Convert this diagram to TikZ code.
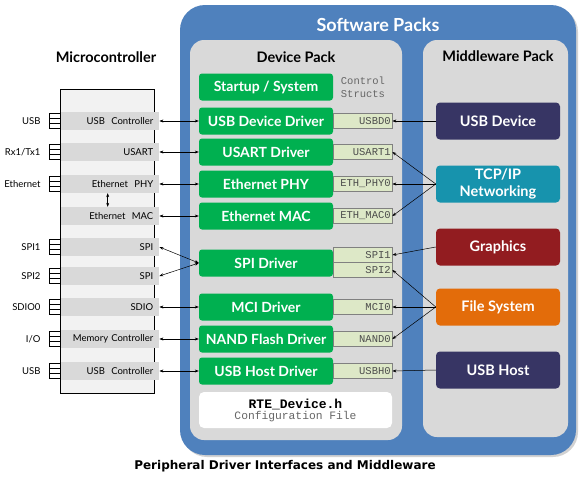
\documentclass[tikz,border=0pt]{standalone}
\usepackage{fontspec}
\setmainfont{Lato}
\setmonofont{Liberation Mono}
\newfontfamily\capfont{DejaVu Sans}
\usetikzlibrary{positioning,arrows.meta,shadows}
\definecolor{packblue}{RGB}{79,129,189}
\definecolor{packgray}{RGB}{217,217,217}
\definecolor{drvgreen}{RGB}{0,176,80}
\definecolor{taggreen}{RGB}{221,232,199}
\definecolor{mwnavy}{RGB}{55,53,100}
\definecolor{mwteal}{RGB}{23,147,173}
\definecolor{mwred}{RGB}{146,28,32}
\definecolor{mworange}{RGB}{227,108,10}
\definecolor{mcugray}{RGB}{242,242,242}
\tikzset{driver/.style={fill=drvgreen, rounded corners=3pt, minimum width=134pt, minimum height=27pt, inner sep=0pt, text=white, font=\bfseries\fontsize{14}{14}\selectfont}}
\tikzset{etiqueta/.style={anchor=west, fill=taggreen, draw=gray, minimum height=15pt, text width=56pt, inner xsep=1.5pt, inner ysep=0pt, align=right, text=black!70, font=\ttfamily\fontsize{10.5}{10.5}\selectfont}}
\tikzset{mw/.style={rounded corners=4pt, minimum width=124pt, minimum height=37pt, inner sep=0pt, align=center, text=white, font=\bfseries\fontsize{14.5}{17}\selectfont}}
\tikzset{fila/.style={anchor=west, fill=packgray, minimum height=18pt, text width=87pt, inner xsep=6pt, inner ysep=0pt, align=right, font=\fontsize{9.5}{9.5}\selectfont}}
\tikzset{puerto/.style={anchor=east, font=\fontsize{9.5}{9.5}\selectfont}}
\tikzset{titulo/.style={font=\bfseries\fontsize{14.5}{14.5}\selectfont}}
\tikzset{flecha/.style={line width=0.5pt, {Stealth[length=4pt,width=3pt]}-{Stealth[length=4pt,width=3pt]}}}
\tikzset{enlace/.style={line width=0.5pt, -{Stealth[length=4pt,width=3pt]}}}

\begin{document}
\begin{tikzpicture}[x=1pt,y=-1pt]
            \useasboundingbox[fill=white] (0,0) rectangle (584,479);

            \draw[fill=packblue, draw=none, rounded corners=25pt, drop shadow={shadow xshift=2pt, shadow yshift=-2pt, opacity=0.35}] (180,5) rectangle (576,455);
            \node[text=white, font=\bfseries\fontsize{18}{18}\selectfont] (sw) at (378,25) {Software Packs};
            \draw[fill=packgray, draw=none, rounded corners=14pt] (190,40) rectangle (402,440);
            \draw[fill=packgray, draw=none, rounded corners=14pt] (423,40) rectangle (568,437);
            \node[titulo] (dp) at (296,57) {Device Pack};
            \node[titulo] (mp) at (498,56) {Middleware Pack};
            \node[titulo] (mcu) at (106,57) {Microcontroller};

            \node[driver] (startup) at (266,87)  {Startup / System};
            \node[driver] (usbd)    at (266,121) {USB Device Driver};
            \node[driver] (usart)   at (266,152) {USART Driver};
            \node[driver] (ethphy)  at (266,184) {Ethernet PHY};
            \node[driver] (ethmac)  at (266,216) {Ethernet MAC};
            \node[driver] (spi)     at (266,263) {SPI Driver};
            \node[driver] (mci)     at (266,307) {MCI Driver};
            \node[driver] (nand)    at (266,339) {NAND Flash Driver};
            \node[driver] (usbh)    at (266,371) {USB Host Driver};
            \node[align=left, text=black!60, font=\ttfamily\fontsize{10.5}{13}\selectfont] (ctrl) at (363,87) {Control\\Structs};

            \node[etiqueta] (tusbd)   at (333,121) {USBD0};
            \node[etiqueta] (tusart)  at (333,152) {USART1};
            \node[etiqueta] (tethphy) at (333,184) {ETH\_PHY0};
            \node[etiqueta] (tethmac) at (333,216) {ETH\_MAC0};
            \node[etiqueta] (tspi1)   at (333,255) {SPI1};
            \node[etiqueta] (tspi2)   at (333,270) {SPI2};
            \node[etiqueta] (tmci)    at (333,307) {MCI0};
            \node[etiqueta] (tnand)   at (333,339) {NAND0};
            \node[etiqueta] (tusbh)   at (333,371) {USBH0};

            \node[fill=white, rounded corners=5pt, minimum width=193pt, minimum height=36pt, align=center, inner sep=0pt] (rte) at (295.5,410)
                {{\ttfamily\bfseries\fontsize{13}{14}\selectfont RTE\_Device.h}\\[-1pt]{\ttfamily\color{black!60}\fontsize{11.3}{12}\selectfont Configuration File}};

            \node[mw, fill=mwnavy]   (musbd)  at (498,121) {USB Device};
            \node[mw, fill=mwteal]   (mtcp)   at (498,184) {TCP/IP\\Networking};
            \node[mw, fill=mwred]    (mgfx)   at (498,247) {Graphics};
            \node[mw, fill=mworange] (mfs)    at (498,307) {File System};
            \node[mw, fill=mwnavy]   (musbh)  at (498,370) {USB Host};

            \draw[enlace] (musbd.west) -- (tusbd.east);
            \draw[enlace] (mtcp.west)  -- (tusart.east);
            \draw[enlace] (mtcp.west)  -- (tethphy.east);
            \draw[enlace] (mtcp.west)  -- (tethmac.east);
            \draw[enlace] (mgfx.west)  -- (tspi1.east);
            \draw[enlace] (mfs.west)   -- (tspi2.east);
            \draw[enlace] (mfs.west)   -- (tmci.east);
            \draw[enlace] (mfs.west)   -- (tnand.east);
            \draw[enlace] (musbh.west) -- (tusbh.east);

            \draw[fill=mcugray, line width=0.8pt] (60,89) rectangle (154,393);
            \node[fila] (rusb)    at (60,121) {USB\ \ Controller};
            \node[fila] (rusart)  at (60,152) {USART};
            \node[fila] (rethphy) at (60,184) {Ethernet\ \ PHY};
            \node[fila] (rethmac) at (60,216) {Ethernet\ \ MAC};
            \node[fila] (rspi1)   at (60,247) {SPI};
            \node[fila] (rspi2)   at (60,276) {SPI};
            \node[fila] (rsdio)   at (60,307) {SDIO};
            \node[fila] (rmem)    at (60,339) {Memory Controller};
            \node[fila] (rusbh)   at (60,371) {USB\ \ Controller};
            \draw[line width=0.8pt] (60,89) -- (60,393);

            \foreach \y/\name/\txt in {121/pusb/USB, 152/pusart/{Rx1/Tx1}, 184/peth/Ethernet, 247/pspi1/SPI1, 276/pspi2/SPI2, 307/psdio/SDIO0, 339/pio/{I/O}, 371/pusbh/USB}{
                \foreach \k in {-1,0,1}
                    \draw[fill=white, line width=0.6pt] (49,\y+\k*5-2.5) rectangle (60,\y+\k*5+2.5);
                \node[puerto] (\name) at (44,\y) {\txt};
            }

            \draw[flecha] (rusb.east)    -- (usbd.west);
            \draw[flecha] (rusart.east)  -- (usart.west);
            \draw[flecha] (rethphy.east) -- (ethphy.west);
            \draw[flecha] (rethmac.east) -- (ethmac.west);
            \draw[flecha] (rspi1.east)   -- (spi.west);
            \draw[flecha] (rspi2.east)   -- (spi.west);
            \draw[flecha] (rsdio.east)   -- (mci.west);
            \draw[flecha] (rmem.east)    -- (nand.west);
            \draw[flecha] (rusbh.east)   -- (usbh.west);
            \draw[flecha] ([xshift=-2pt]rethphy.south) -- ([xshift=-2pt]rethmac.north);

            \node[font=\capfont\bfseries\fontsize{12}{12}\selectfont] (cap) at (285,466) {Peripheral Driver Interfaces and Middleware};
        \end{tikzpicture}
\end{document}
